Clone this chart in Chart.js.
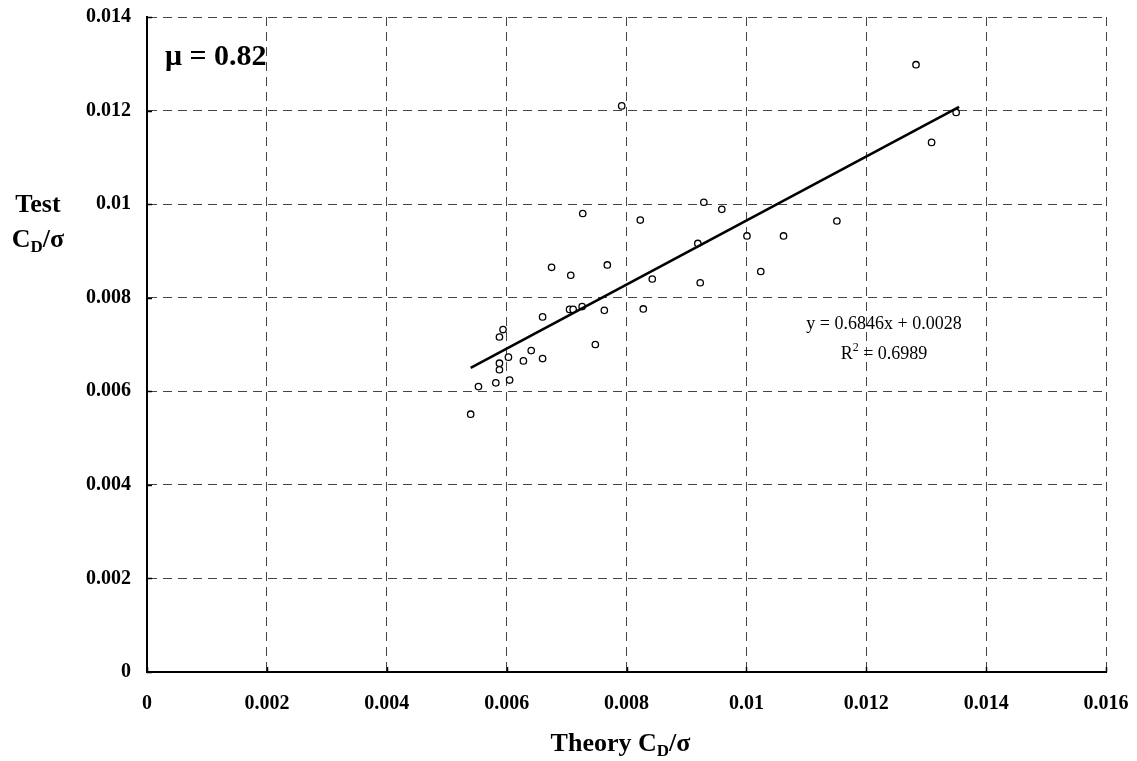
<!DOCTYPE html>
<html>
<head>
<meta charset="utf-8">
<title>Test vs Theory CD/σ</title>
<script src="https://cdn.jsdelivr.net/npm/chart.js@4.4.1/dist/chart.umd.min.js"></script>
<style>
  html, body { margin: 0; padding: 0; background: #fff; }
  #wrap { width: 1137px; height: 761px; position: relative; }
</style>
</head>
<body>
<div id="wrap"><canvas id="chart" width="1137" height="761"></canvas></div>
<script>
'use strict';

// ── Data ────────────────────────────────────────────────────────────────────
const theoryX = [
  0.00540, 0.00553, 0.00582, 0.00605, 0.00588, 0.00588, 0.00603, 0.00628,
  0.00641, 0.00660, 0.00588, 0.00594, 0.00660, 0.00675, 0.00707, 0.00705,
  0.00711, 0.00726, 0.00748, 0.00763, 0.00768, 0.00828, 0.00843, 0.00727,
  0.00823, 0.00792, 0.00929, 0.00959, 0.00919, 0.01001, 0.01062, 0.01024,
  0.00923, 0.01151, 0.01309, 0.01350, 0.01283
];
const testY = [
  0.00551, 0.00610, 0.00618, 0.00624, 0.00646, 0.00660, 0.00673, 0.00665,
  0.00687, 0.00670, 0.00716, 0.00732, 0.00759, 0.00865, 0.00848, 0.00775,
  0.00775, 0.00781, 0.00700, 0.00773, 0.00870, 0.00776, 0.00840, 0.00980,
  0.00966, 0.01210, 0.01004, 0.00989, 0.00916, 0.00932, 0.00932, 0.00856,
  0.00832, 0.00964, 0.01132, 0.01196, 0.01298
];
// trendline end points (y = 0.6846x + 0.0028)
const trendX = [0.0054, 0.01355];
const trendY = [0.00650, 0.01208];

const xTickLabels = ['0', '0.002', '0.004', '0.006', '0.008', '0.01', '0.012', '0.014', '0.016'];
const yTickLabels = ['0', '0.002', '0.004', '0.006', '0.008', '0.01', '0.012', '0.014'];

const SERIF = '"Liberation Serif", "Times New Roman", serif';

// ── Helpers ────────────────────────────────────────────────────────────────
function toPoints(xs, ys) {
  return xs.map((x, i) => ({ x: x, y: ys[i] }));
}

// draws "<pre><sub><post>" with a subscript, centred on cx
function drawSubText(ctx, pre, sub, post, cx, baseline, size) {
  const main = 'bold ' + size + 'px ' + SERIF;
  const small = 'bold ' + Math.round(size * 0.65) + 'px ' + SERIF;
  ctx.font = main;
  const w1 = ctx.measureText(pre).width;
  const w3 = ctx.measureText(post).width;
  ctx.font = small;
  const w2 = ctx.measureText(sub).width;
  let x = cx - (w1 + w2 + w3) / 2;
  ctx.textAlign = 'left';
  ctx.textBaseline = 'alphabetic';
  ctx.font = main;
  ctx.fillText(pre, x, baseline);
  x += w1;
  ctx.font = small;
  ctx.fillText(sub, x, baseline + size * 0.2);
  x += w2;
  ctx.font = main;
  ctx.fillText(post, x, baseline);
}

// fixed axis boxes, no extra label padding, so the plot area lands where the reference has it
function fixBox(size, horizontal) {
  return s => {
    if (horizontal) s.height = size; else s.width = size;
    s.paddingTop = 0;
    s.paddingBottom = 0;
    s.paddingLeft = 0;
    s.paddingRight = 0;
  };
}

const whiteBg = {
  id: 'whiteBg',
  beforeDraw(chart) {
    const ctx = chart.ctx;
    ctx.save();
    ctx.fillStyle = '#fff';
    ctx.fillRect(0, 0, chart.width, chart.height);
    ctx.restore();
  },
};

// short solid tick marks pointing into the plot, like the original
const innerTicks = {
  id: 'innerTicks',
  afterDraw(chart) {
    const ctx = chart.ctx;
    const a = chart.chartArea;
    const xs = chart.scales.x, ys = chart.scales.y;
    ctx.save();
    ctx.strokeStyle = '#000';
    ctx.lineWidth = 1.5;
    ctx.beginPath();
    xs.ticks.forEach(t => {
      const px = Math.round(xs.getPixelForValue(t.value)) + 0.5;
      ctx.moveTo(px, a.bottom);
      ctx.lineTo(px, a.bottom - 5);
    });
    ys.ticks.forEach(t => {
      const py = Math.round(ys.getPixelForValue(t.value)) + 0.5;
      ctx.moveTo(a.left, py);
      ctx.lineTo(a.left + 5, py);
    });
    ctx.stroke();
    ctx.restore();
  },
};

const labels = {
  id: 'labels',
  afterDraw(chart) {
    const ctx = chart.ctx;
    const a = chart.chartArea;
    ctx.save();
    ctx.fillStyle = '#000';

    // mu label
    ctx.font = 'bold 30px ' + SERIF;
    ctx.textAlign = 'left';
    ctx.textBaseline = 'alphabetic';
    ctx.fillText('\u03bc = 0.82', a.left + 18, a.top + 48);

    // trendline equation
    const cx = 884;
    ctx.font = '18px ' + SERIF;
    ctx.textAlign = 'center';
    ctx.fillText('y = 0.6846x + 0.0028', cx, 329);
    const r = 'R', sup = '2', rest = ' = 0.6989';
    const wR = ctx.measureText(r).width, wRest = ctx.measureText(rest).width;
    ctx.font = '12px ' + SERIF;
    const wS = ctx.measureText(sup).width;
    let x = cx - (wR + wS + wRest) / 2;
    ctx.textAlign = 'left';
    ctx.font = '18px ' + SERIF;
    ctx.fillText(r, x, 359);
    x += wR;
    ctx.font = '12px ' + SERIF;
    ctx.fillText(sup, x, 351);
    x += wS;
    ctx.font = '18px ' + SERIF;
    ctx.fillText(rest, x, 359);

    // y axis title (two lines, horizontal)
    ctx.font = 'bold 26px ' + SERIF;
    ctx.textAlign = 'center';
    ctx.fillText('Test', 38, 212);
    drawSubText(ctx, 'C', 'D', '/\u03c3', 38, 247, 26);

    // x axis title
    drawSubText(ctx, 'Theory C', 'D', '/\u03c3', (a.left + a.right) / 2 - 6, 751, 26);

    ctx.restore();
  },
};

// ── Chart ──────────────────────────────────────────────────────────────────
const gridStyle = {
  color: '#444',
  lineWidth: 1,
  drawTicks: false,
};
const borderStyle = { display: true, color: '#000', width: 2, dash: [9, 6] };

new Chart(document.getElementById('chart'), {
  type: 'scatter',
  data: {
    datasets: [
      {
        label: 'Test',
        data: toPoints(theoryX, testY),
        pointStyle: 'circle',
        pointRadius: 3.2,
        pointBorderWidth: 1.3,
        pointBorderColor: '#000',
        pointBackgroundColor: '#fff',
        order: 1,
      },
      {
        label: 'Trend',
        type: 'line',
        data: toPoints(trendX, trendY),
        borderColor: '#000',
        borderWidth: 2.6,
        pointRadius: 0,
        fill: false,
        order: 0,
      },
    ],
  },
  options: {
    responsive: false,
    animation: false,
    layout: { padding: { left: 0, top: 17, right: 31, bottom: 0 } },
    plugins: {
      legend: { display: false },
      tooltip: { enabled: false },
    },
    scales: {
      x: {
        type: 'linear',
        min: 0,
        max: 0.016,
        grid: gridStyle,
        border: borderStyle,
        ticks: {
          stepSize: 0.002,
          autoSkip: false,
          maxRotation: 0,
          padding: 20,
          color: '#000',
          font: { family: SERIF, size: 20, weight: 'bold' },
          callback: (v, i) => xTickLabels[i],
        },
        afterFit: fixBox(89, true),
      },
      y: {
        type: 'linear',
        min: 0,
        max: 0.014,
        grid: gridStyle,
        border: borderStyle,
        ticks: {
          stepSize: 0.002,
          autoSkip: false,
          padding: 16,
          color: '#000',
          font: { family: SERIF, size: 20, weight: 'bold' },
          callback: (v, i) => yTickLabels[i],
        },
        afterFit: fixBox(147, false),
      },
    },
  },
  plugins: [whiteBg, innerTicks, labels],
});
</script>
</body>
</html>
